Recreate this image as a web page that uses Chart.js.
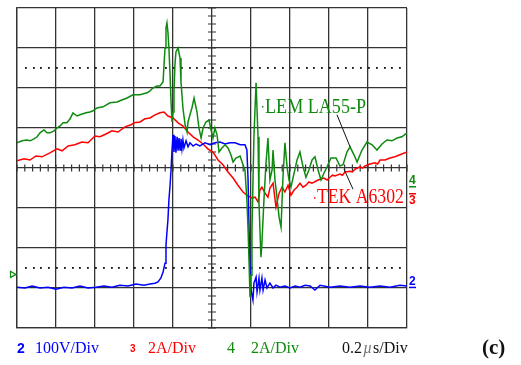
<!DOCTYPE html>
<html>
<head>
<meta charset="utf-8">
<script src="https://cdn.jsdelivr.net/npm/chart.js@4.4.1/dist/chart.umd.min.js"></script>
<style>
  body { margin: 0; background: #fff; }
  canvas { display: block; }
</style>
</head>
<body>
<canvas id="scope" width="521" height="365"></canvas>
<script>
/* Oscilloscope screenshot: switching transient, 0.2 µs/div.
   Time in ns, amplitude in screen divisions (0 = centre line). */

const TIME_MIN = 0;
const TIME_MAX = 2000;
const TIME_STEP = 200;
const DIV_MIN = -4;
const DIV_MAX = 4;
const DOT_LEVELS = [2.5, -2.5];

// Ch4, LEM LA55-P current (green)
const greenTrace = [
    [0, 0.63], [26, 0.68], [51, 0.7], [67, 0.68], [87, 0.73], [103, 0.78], [118, 0.88], [138, 0.95],
    [154, 0.88], [169, 0.88], [190, 0.93], [205, 1.0], [221, 1.05], [236, 1.13], [256, 1.13], [272, 1.23],
    [287, 1.38], [308, 1.3], [323, 1.33], [354, 1.38], [374, 1.4], [390, 1.43], [410, 1.5], [441, 1.53],
    [477, 1.63], [513, 1.65], [538, 1.7], [564, 1.75], [595, 1.83], [631, 1.83], [667, 1.88], [682, 1.93],
    [697, 2.0], [718, 2.05], [733, 2.05], [749, 2.15], [759, 3.0], [764, 3.5], [769, 3.63], [774, 3.4],
    [779, 3.0], [785, 2.33], [790, 1.65], [795, 1.15], [800, 1.4], [805, 1.9], [810, 2.58], [815, 2.9],
    [826, 3.0], [836, 2.75], [841, 2.15], [851, 1.5], [862, 1.08], [872, 0.9], [877, 1.15], [887, 1.33],
    [897, 1.5], [908, 1.75], [923, 1.4], [933, 1.0], [944, 0.75], [954, 1.0], [969, 1.15], [985, 1.2],
    [995, 0.95], [1005, 0.75], [1015, 1.0], [1026, 0.83], [1036, 0.4], [1051, 0.5], [1067, 0.58], [1082, 0.5],
    [1097, 0.33], [1108, 0.15], [1123, 0.25], [1144, 0.3], [1159, 0.08], [1169, -0.05], [1179, -0.8], [1185, -1.55],
    [1190, -2.35], [1195, -3.23], [1200, -2.68], [1205, -1.55], [1215, 0.78], [1226, 2.13], [1236, 0.78], [1241, -0.88],
    [1251, -2.23], [1256, -1.88], [1267, -0.73], [1277, 0.13], [1287, 0.75], [1297, -0.3], [1308, -0.05], [1313, 0.45],
    [1323, -0.3], [1333, -0.73], [1344, -1.23], [1354, -1.48], [1364, -0.23], [1374, 0.63], [1385, 0.03], [1395, -0.3],
    [1405, -0.48], [1421, -0.13], [1436, 0.2], [1451, 0.4], [1467, 0.03], [1482, -0.23], [1497, -0.05], [1513, 0.2],
    [1528, 0.28], [1544, -0.05], [1559, -0.3], [1574, -0.13], [1590, 0.03], [1610, 0.25], [1636, 0.25], [1656, 0.05],
    [1672, 0.08], [1692, 0.4], [1708, 0.53], [1728, 0.33], [1744, 0.15], [1769, 0.45], [1795, 0.65], [1821, 0.58],
    [1846, 0.45], [1872, 0.6], [1897, 0.7], [1923, 0.68], [1949, 0.75], [1974, 0.78], [2000, 0.88],
];

// Ch2, voltage (blue)
const blueTrace = [
    [0, -2.98], [41, -3.0], [77, -2.95], [118, -3.0], [159, -2.98], [200, -3.03], [241, -2.98], [282, -3.0],
    [323, -2.95], [364, -3.0], [405, -2.98], [446, -2.95], [487, -2.98], [528, -2.93], [569, -2.95], [610, -2.9],
    [651, -2.93], [682, -2.9], [708, -2.88], [723, -2.85], [738, -2.75], [749, -2.6], [759, -2.38], [764, -1.93],
    [769, -1.6], [774, -1.3], [779, -0.8], [785, -0.43], [790, -0.05], [795, 0.45], [800, 0.83], [805, 0.4],
    [810, 0.8], [815, 0.38], [821, 0.78], [826, 0.43], [831, 0.75], [836, 0.45], [841, 0.73], [846, 0.48],
    [851, 0.7], [856, 0.5], [867, 0.68], [877, 0.53], [887, 0.63], [903, 0.55], [918, 0.6], [938, 0.55],
    [964, 0.63], [990, 0.58], [1015, 0.63], [1041, 0.65], [1067, 0.6], [1092, 0.63], [1118, 0.63], [1144, 0.58],
    [1169, 0.58], [1179, 0.45], [1185, -0.3], [1190, -1.55], [1195, -2.55], [1200, -3.05], [1210, -3.3], [1215, -2.88],
    [1226, -2.73], [1231, -3.1], [1241, -2.75], [1246, -3.05], [1256, -2.75], [1262, -3.05], [1272, -2.8], [1282, -3.0],
    [1297, -2.88], [1313, -3.0], [1328, -2.93], [1349, -2.98], [1374, -2.95], [1400, -3.0], [1426, -2.95], [1451, -2.98],
    [1477, -2.93], [1503, -2.95], [1528, -3.05], [1554, -2.93], [1605, -2.98], [1656, -2.95], [1708, -2.98], [1759, -2.95],
    [1810, -2.98], [1862, -2.95], [1913, -2.98], [1964, -2.93], [2000, -2.95],
];

// Ch3, TEK A6302 current (red)
const redTrace = [
    [0, 0.18], [36, 0.23], [67, 0.2], [97, 0.3], [128, 0.28], [169, 0.38], [205, 0.48], [231, 0.43],
    [262, 0.55], [297, 0.58], [333, 0.65], [364, 0.63], [400, 0.8], [426, 0.78], [456, 0.85], [487, 0.93],
    [518, 0.9], [554, 1.03], [585, 1.08], [600, 1.13], [631, 1.15], [656, 1.23], [682, 1.25], [708, 1.33],
    [733, 1.38], [754, 1.4], [774, 1.3], [800, 1.25], [826, 1.13], [851, 1.05], [877, 0.9], [903, 0.78],
    [928, 0.7], [954, 0.6], [979, 0.48], [1005, 0.4], [1031, 0.2], [1056, 0.08], [1082, -0.1], [1108, -0.25],
    [1133, -0.43], [1159, -0.6], [1185, -0.7], [1205, -0.75], [1221, -0.73], [1236, -0.85], [1246, -0.55], [1256, -0.48],
    [1272, -0.63], [1287, -0.73], [1297, -0.5], [1313, -0.38], [1328, -0.98], [1344, -0.63], [1359, -0.48], [1374, -0.6],
    [1390, -0.43], [1405, -0.68], [1421, -0.55], [1436, -0.48], [1451, -0.38], [1467, -0.48], [1482, -0.43], [1497, -0.35],
    [1513, -0.38], [1544, -0.3], [1574, -0.25], [1590, -0.3], [1605, -0.23], [1618, -0.18], [1631, -0.2], [1656, -0.15],
    [1669, -0.18], [1682, -0.1], [1708, -0.08], [1720, -0.1], [1733, -0.03], [1759, 0.03], [1772, 0.0], [1785, 0.05],
    [1810, 0.1], [1836, 0.13], [1849, 0.1], [1862, 0.2], [1887, 0.2], [1913, 0.25], [1938, 0.28], [1964, 0.33], [2000, 0.4],
];

const COLOR_GREEN = '#0f8a0f';
const COLOR_BLUE = '#0000ff';
const COLOR_RED = '#ff0000';
const GRID = '#333333';
const SERIF = '"Liberation Serif", "DejaVu Serif", serif';
const SANS = '"Liberation Sans", Arial, sans-serif';

const toPoints = (trace) => trace.map(([x, y]) => ({ x, y }));

/* --- Scope screen furniture: centre-axis minor ticks, dotted levels, labels --- */

const scopeDecor = {
    id: 'scopeDecor',
    beforeDatasetsDraw(c) {
        const { ctx, scales: { x, y } } = c;
        ctx.save();
        ctx.strokeStyle = GRID;
        ctx.lineWidth = 1.2;
        ctx.beginPath();
        const y0 = y.getPixelForValue(0);
        for (let t = TIME_MIN; t <= TIME_MAX; t += TIME_STEP / 5) {
            const px = x.getPixelForValue(t);
            ctx.moveTo(px, y0 - 3.5);
            ctx.lineTo(px, y0 + 3.5);
        }
        const x0 = x.getPixelForValue((TIME_MIN + TIME_MAX) / 2);
        for (let v = DIV_MIN; v <= DIV_MAX + 0.01; v += 0.2) {
            const py = y.getPixelForValue(v);
            ctx.moveTo(x0 - 4, py);
            ctx.lineTo(x0 + 4, py);
        }
        ctx.stroke();

        ctx.fillStyle = '#111';
        DOT_LEVELS.forEach((lvl) => {
            const py = y.getPixelForValue(lvl);
            for (let t = TIME_STEP / 5; t < TIME_MAX; t += TIME_STEP / 5) {
                ctx.fillRect(Math.round(x.getPixelForValue(t)), Math.round(py) - 1, 1.8, 1.8);
            }
        });
        ctx.restore();
    },
    afterDatasetsDraw(c) {
        const { ctx, chartArea, scales: { x, y } } = c;
        const X = (t) => x.getPixelForValue(t);
        const Y = (v) => y.getPixelForValue(v);
        ctx.save();

        // probe labels with leader lines
        ctx.strokeStyle = '#111';
        ctx.lineWidth = 1;
        ctx.beginPath();
        ctx.moveTo(X(1641), Y(1.33));
        ctx.lineTo(X(1708), Y(0.53));
        ctx.moveTo(X(1677), Y(-0.03));
        ctx.lineTo(X(1723), Y(-0.53));
        ctx.stroke();

        ctx.textBaseline = 'alphabetic';
        ctx.font = `20px ${SERIF}`;
        ctx.fillStyle = COLOR_GREEN;
        ctx.fillText('LEM LA55-P', X(1272), Y(1.375), 101);
        ctx.fillRect(X(1256), Y(1.55), 1.5, 1.5);
        ctx.fillStyle = COLOR_RED;
        ctx.fillText('TEK A6302', X(1538), Y(-0.875), 87);
        ctx.fillRect(X(1523), Y(-0.73), 1.5, 1.5);

        // channel ground markers at the right edge, trigger mark at the left
        const rx = chartArea.right + 2;
        ctx.font = `bold 12px ${SANS}`;
        ctx.fillStyle = COLOR_GREEN;
        ctx.fillText('4', rx, Y(-0.4));
        ctx.fillRect(rx, Y(-0.4) + 2, 7, 1.5);
        ctx.fillStyle = COLOR_RED;
        ctx.fillText('3', rx, Y(-0.9));
        ctx.fillRect(rx, Y(-0.9) - 11, 7, 1.5);
        ctx.fillStyle = COLOR_BLUE;
        ctx.fillText('2', rx, Y(-2.93));
        ctx.fillRect(rx, Y(-2.93) + 1.5, 7, 1.5);

        ctx.strokeStyle = COLOR_GREEN;
        ctx.lineWidth = 1.2;
        const ty = Y(-2.66);
        ctx.beginPath();
        ctx.moveTo(10.5, ty - 3);
        ctx.lineTo(16, ty);
        ctx.lineTo(10.5, ty + 3);
        ctx.closePath();
        ctx.stroke();

        // scale readout under the screen
        const by = chartArea.bottom + 25;
        ctx.font = `bold 14px ${SANS}`;
        ctx.fillStyle = COLOR_BLUE;
        ctx.fillText('2', 17, by);
        ctx.font = `16px ${SERIF}`;
        ctx.fillText('100V/Div', 35, by);

        ctx.font = `bold 10px ${SANS}`;
        ctx.fillStyle = COLOR_RED;
        ctx.fillText('3', 130, by - 1);
        ctx.font = `16px ${SERIF}`;
        ctx.fillText('2A/Div', 148, by);

        ctx.fillStyle = COLOR_GREEN;
        ctx.fillText('4', 227, by);
        ctx.fillText('2A/Div', 251, by);

        ctx.fillStyle = '#111';
        ctx.fillText('0.2', 342, by);
        ctx.fillStyle = '#777';
        ctx.font = `italic 16px ${SERIF}`;
        ctx.fillText('\u00b5', 363, by);
        ctx.fillStyle = '#111';
        ctx.font = `16px ${SERIF}`;
        ctx.fillText('s/Div', 373, by);

        ctx.font = `bold 21px ${SERIF}`;
        ctx.fillText('(c)', 482, by + 1);
        ctx.restore();
    },
};

const axisGrid = { color: GRID, lineWidth: 1.3, drawTicks: false };

new Chart(document.getElementById('scope'), {
    type: 'line',
    data: {
        datasets: [
            { label: 'LEM LA55-P', data: toPoints(greenTrace), borderColor: COLOR_GREEN },
            { label: 'Voltage', data: toPoints(blueTrace), borderColor: COLOR_BLUE },
            { label: 'TEK A6302', data: toPoints(redTrace), borderColor: COLOR_RED },
        ],
    },
    options: {
        responsive: false,
        animation: false,
        devicePixelRatio: 1,
        layout: { padding: { left: 17, right: 114, top: 8, bottom: 37 } },
        elements: {
            point: { radius: 0 },
            line: { borderWidth: 1.5, tension: 0 },
        },
        plugins: { legend: { display: false }, tooltip: { enabled: false } },
        scales: {
            x: {
                type: 'linear',
                min: TIME_MIN,
                max: TIME_MAX,
                ticks: { display: false, stepSize: TIME_STEP },
                grid: axisGrid,
                border: { color: GRID, width: 1.3 },
            },
            y: {
                min: DIV_MIN,
                max: DIV_MAX,
                ticks: { display: false, stepSize: 1 },
                grid: axisGrid,
                border: { color: GRID, width: 1.3 },
            },
        },
    },
    plugins: [scopeDecor],
});
</script>
</body>
</html>
